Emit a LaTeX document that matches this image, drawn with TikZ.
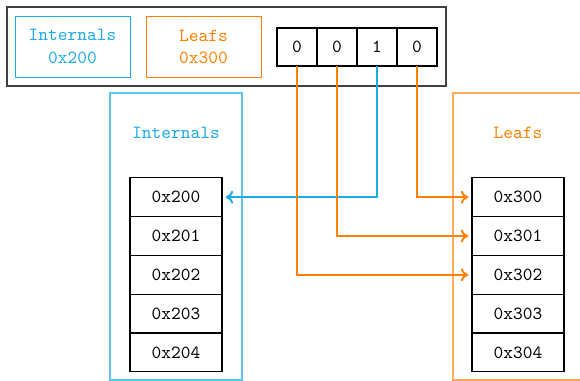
\documentclass[tikz,border=0pt]{standalone}
\usetikzlibrary{arrows.meta}
\definecolor{cblue}{RGB}{27,170,232}
\definecolor{corange}{RGB}{255,128,0}
\definecolor{lblue}{RGB}{90,195,240}
\definecolor{lorange}{RGB}{255,170,95}
\begin{document}
\begin{tikzpicture}[x=0.54pt,y=-0.54pt,
  every node/.style={font=\ttfamily\fontsize{10}{12}\selectfont, inner sep=0pt, outer sep=0pt},
  cell/.style={draw=black, line width=0.6pt, minimum width=49.7pt, minimum height=20.95pt},
  bitcell/.style={draw=black, line width=0.6pt, minimum width=21.6pt, minimum height=20.5pt},
  tagbox/.style={line width=0.5pt, minimum width=62.1pt, minimum height=32.9pt, align=center},
  bline/.style={cblue, line width=1.05pt},
  oline/.style={corange, line width=1.05pt},
  tip/.style={-{To[length=4pt,width=7pt]}, shorten >=2pt}]
\useasboundingbox (0,0) rectangle (580,381);
\clip (0,0) rectangle (580,381);
% top box
\node[draw=black!75, line width=0.8pt, minimum width=237pt, minimum height=42.7pt] (top) at (226.5,46.5) {};
\node[tagbox, draw=cblue, text=cblue] (tint) at (72.5,46.5) {Internals\\0x200};
\node[tagbox, draw=corange, text=corange] (tleaf) at (203.5,46.5) {Leafs\\0x300};
\node[bitcell] (b1) at (297,47) {0};
\node[bitcell] (b2) at (337,47) {0};
\node[bitcell] (b3) at (377,47) {1};
\node[bitcell] (b4) at (417,47) {0};
% containers
\node[draw=lblue, line width=0.6pt, minimum width=71.3pt, minimum height=155pt] (cint) at (176,236.5) {};
\node[text=cblue] (lint) at (176,133) {Internals};
\draw[lorange, line width=0.6pt] (600,93) -- (453,93) -- (453,380) -- (600,380);
\coordinate (cleaf) at (453,93);
\node[text=corange] (lleaf) at (518,133) {Leafs};
% memory cells
\foreach \i/\y in {0/197.2,1/236,2/274.8,3/313.6,4/352.4}{
  \node[cell] (i\i) at (176,\y) {0x20\i};
  \node[cell] (l\i) at (518,\y) {0x30\i};
}
% connectors
\draw[bline, tip] (b3.south) |- (i0.east);
\draw[oline, tip] (b4.south) |- (l0.west);
\draw[oline, tip] (b2.south) |- (l1.west);
\draw[oline, tip] (b1.south) |- (l2.west);
\end{tikzpicture}
\end{document}
